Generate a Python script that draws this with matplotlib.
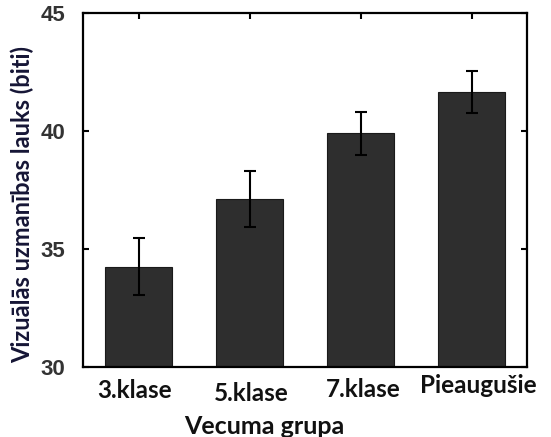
import numpy as np
import matplotlib
matplotlib.use("Agg")
import matplotlib.pyplot as plt
from matplotlib.transforms import ScaledTranslation

# data
groups = ["3.klase", "5.klase", "7.klase", "Pieaugušie"]
means = [34.25, 37.12, 39.9, 41.65]
errs = [1.2, 1.17, 0.92, 0.9]
yticks = [30, 35, 40, 45]

fig = plt.figure(figsize=(5.51, 4.37), dpi=100)
ax = fig.add_axes([83 / 551, 1 - 367 / 437, 444 / 551, 354 / 437])

x = np.arange(1, len(groups) + 1)
ax.bar(x, means, width=0.6, color="#2e2e2e", edgecolor="#1a1a1a", linewidth=0.8)
ax.errorbar(x, means, yerr=errs, fmt="none", ecolor="black", elinewidth=1.5,
            capsize=4, capthick=1.5)

ax.set_xlim(0.5, 4.5)
ax.set_ylim(30, 45)
ax.set_yticks(yticks)
ax.set_yticklabels([str(t) for t in yticks], fontfamily="Liberation Sans",
                   fontweight="bold", fontsize=16, color="#333333")
ax.set_xticks(x)
ax.set_xticklabels(groups, fontfamily="Lato", fontweight="bold", fontsize=17.5,
                   color="#111111")

ax.tick_params(axis="y", direction="in", length=4, width=1.5, left=True,
               right=True, pad=13)
ax.tick_params(axis="x", direction="in", length=4, width=1.5, bottom=False,
               top=True)
for s in ax.spines.values():
    s.set_linewidth(1.6)

# slightly staggered tick labels as in the original
pads = [9, 11, 8, 5]
dx = [-4, 2, 3, 7]
for tick, p, d in zip(ax.xaxis.get_major_ticks(), pads, dx):
    tick.set_pad(p)
    lab = tick.label1
    lab.set_transform(lab.get_transform() + ScaledTranslation(d / 100, 0, fig.dpi_scale_trans))

ax.set_xlabel("Vecuma grupa", fontfamily="Lato", fontweight="bold",
              fontsize=18, color="#111111")
ax.set_ylabel("Vizuālās uzmanības lauks (biti)", fontfamily="Lato",
              fontweight="bold", fontsize=17, color="#151535")
ax.xaxis.set_label_coords(0.408, -0.135)
ax.yaxis.set_label_coords(-0.11, 0.458)

fig.savefig("out.png", dpi=100)
